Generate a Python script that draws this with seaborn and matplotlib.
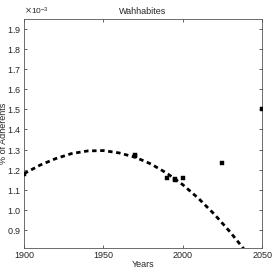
import matplotlib
matplotlib.use("Agg")
import matplotlib.pyplot as plt
from matplotlib.ticker import ScalarFormatter
import seaborn as sns
import numpy as np

# observed data (% of adherents, in units of 1e-3)
years = [1900, 1970, 1970, 1990, 1995, 1995, 2000, 2025, 2050]
adherents = [1.18, 1.275, 1.268, 1.16, 1.15, 1.155, 1.157, 1.235, 1.50]

# fitted trend
fit_years = [1900, 1910, 1920, 1930, 1940, 1950, 1960, 1970, 1980, 1990,
             2000, 2010, 2020, 2030, 2040]
fit_values = [1.18, 1.222, 1.255, 1.280, 1.293, 1.295, 1.283, 1.262, 1.228,
              1.182, 1.125, 1.056, 0.977, 0.888, 0.790]

sns.set_style("ticks")
plt.rcParams['font.family'] = ['Liberation Sans', 'DejaVu Sans']

fig = plt.figure(figsize=(2.73, 2.73), dpi=100)
ax = fig.add_axes([0.088, 0.092, 0.872, 0.838])

sns.lineplot(x=fit_years, y=np.array(fit_values) * 1e-3, ax=ax, color="black",
             linewidth=2.0, linestyle=(0, (1.6, 1.3)))
sns.scatterplot(x=years, y=np.array(adherents) * 1e-3, ax=ax, color="black",
                marker="s", s=10, edgecolor="black", linewidth=0.3, zorder=5)

ax.set_xlim(1900, 2050)
ax.set_ylim(0.81e-3, 1.95e-3)
ax.set_xticks([1900, 1950, 2000, 2050])
ax.set_yticks(np.array([0.9, 1.0, 1.1, 1.2, 1.3, 1.4, 1.5, 1.6, 1.7, 1.8, 1.9]) * 1e-3)
fmt = ScalarFormatter(useMathText=True)
fmt.set_powerlimits((-3, -3))
ax.yaxis.set_major_formatter(fmt)
ax.yaxis.get_offset_text().set_fontsize(6)
ax.tick_params(direction="in", length=2, width=0.5, labelsize=6.5, top=True, right=True, pad=2)
for sp in ax.spines.values():
    sp.set_linewidth(0.6)
    sp.set_color("#555555")

ax.set_title("Wahhabites", fontsize=6.5, pad=4)
ax.set_xlabel("Years", fontsize=6.5, labelpad=0)
ax.set_ylabel("% of Adherents", fontsize=6.5)
ax.yaxis.set_label_coords(-0.068, 0.5)

fig.savefig("out.png", dpi=100)
